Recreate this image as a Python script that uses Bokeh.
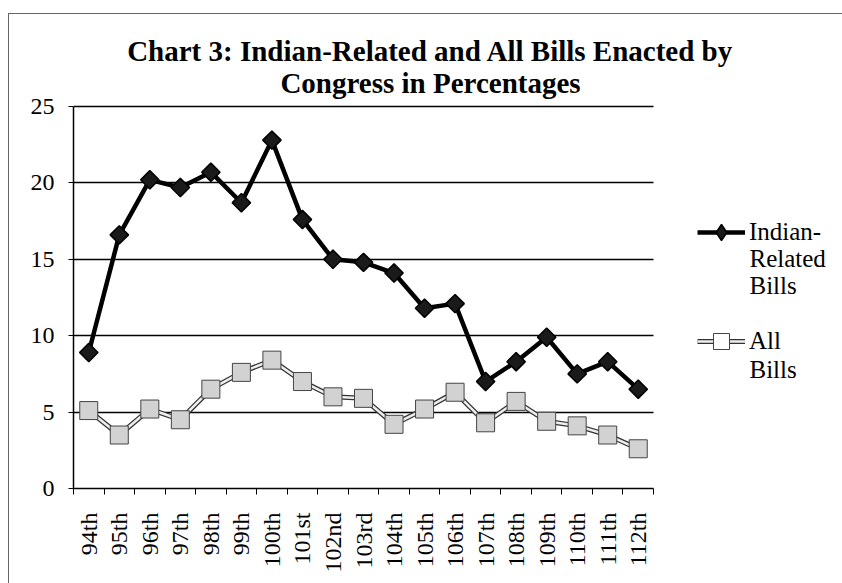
import numpy as np
from bokeh.plotting import figure
from bokeh.models import (Range1d, FixedTicker, Label, Legend, LegendItem,
                          ColumnDataSource)
from bokeh.embed import file_html
from bokeh.resources import INLINE

# Congresses and the share of bills enacted (%)
congresses = ["94th", "95th", "96th", "97th", "98th", "99th", "100th", "101st",
              "102nd", "103rd", "104th", "105th", "106th", "107th", "108th",
              "109th", "110th", "111th", "112th"]
indian_related = [8.9, 16.6, 20.2, 19.7, 20.7, 18.7, 22.8, 17.6, 15.0, 14.8,
                  14.1, 11.8, 12.1, 7.0, 8.3, 9.9, 7.5, 8.3, 6.5]
all_bills = [5.1, 3.5, 5.2, 4.5, 6.5, 7.6, 8.4, 7.0, 6.0, 5.9, 4.2, 5.2, 6.3,
             4.3, 5.7, 4.4, 4.1, 3.5, 2.6]
y_ticks = [0, 5, 10, 15, 20, 25]

title_lines = ["Chart 3: Indian-Related and All Bills Enacted by",
               "Congress in Percentages"]
legend_lines = [["Indian-", "Related", "Bills"], ["All", "Bills"]]

SERIF = "Liberation Serif"
W, H = 842, 583
# the plotted area (0..19 by 0..25) in canvas pixels
LEFT, RIGHT, TOP, BOTTOM = 73, 653, 106, 488
Y_MAX = 25

n = len(congresses)
xpos = np.arange(n) + 0.5
src = ColumnDataSource(dict(x=xpos, cat=congresses,
                            ind=indian_related, allb=all_bills))

# The frame reaches the top and right edges of the canvas so that the title
# and legend can sit inside it; axes and grid are bounded to the data area.
x_end = n * (W - LEFT) / (RIGHT - LEFT)
y_end = Y_MAX * (BOTTOM) / (BOTTOM - TOP)

p = figure(width=W, height=H, output_backend="svg", toolbar_location=None,
           title=None,
           x_range=Range1d(0, x_end), y_range=Range1d(0, y_end),
           min_border_left=LEFT, min_border_right=0,
           min_border_top=0, min_border_bottom=H - BOTTOM)
p.outline_line_color = None
p.background_fill_color = None
p.border_fill_color = None
p.styles = {
    "background": "linear-gradient(#666,#666) 8px 13px / 834px 1px no-repeat, "
                  "linear-gradient(#666,#666) 8px 13px / 1px 570px no-repeat, "
                  "white"
}

# axes
p.xaxis.bounds = (0, n)
p.xaxis.ticker = FixedTicker(ticks=list(xpos), minor_ticks=list(range(n + 1)))
p.xaxis.major_label_overrides = {float(x): c for x, c in zip(xpos, congresses)}
p.xaxis.major_label_orientation = np.pi / 2
p.xaxis.major_tick_line_color = None
p.xaxis.major_tick_out = 0
p.xaxis.major_tick_in = 0
p.xaxis.minor_tick_line_color = "black"
p.xaxis.minor_tick_out = 6
p.xaxis.minor_tick_in = 0
p.xaxis.major_label_standoff = 18
p.xaxis.axis_line_color = "black"
p.xaxis.axis_line_width = 1.5

p.yaxis.bounds = (0, Y_MAX)
p.yaxis.ticker = FixedTicker(ticks=y_ticks)
p.yaxis.minor_tick_line_color = None
p.yaxis.major_tick_out = 5
p.yaxis.major_tick_in = 0
p.yaxis.major_label_standoff = 14
p.yaxis.axis_line_color = "black"
p.yaxis.axis_line_width = 1.5

for ax in (p.xaxis, p.yaxis):
    ax.major_label_text_font = SERIF
    ax.major_label_text_font_size = "24px"
    ax.major_label_text_color = "black"

p.xgrid.grid_line_color = None
p.ygrid.grid_line_color = "black"
p.ygrid.grid_line_width = 1.5
p.ygrid.bounds = (0, Y_MAX)
p.ygrid.cross_bounds = (0, n)

# All bills: outlined light line with square markers; the white key marker
# sits under the grey ones and only shows up in the legend sample
all_edge = p.line("x", "allb", source=src, line_color="#333333", line_width=5)
all_core = p.line("x", "allb", source=src, line_color="#eeeeee", line_width=2.5)
all_key = p.scatter("x", "allb", source=src, marker="square", size=14,
                    fill_color="white", line_color="#444444", line_width=1)
all_pts = p.scatter("x", "allb", source=src, marker="square", size=18,
                    fill_color="#d2d2d2", line_color="#444444", line_width=1)

# Indian-related bills: heavy black line with diamond markers (the narrow
# diamond key lies inside the rotated squares and serves the legend)
ind_line = p.line("x", "ind", source=src, line_color="black", line_width=4.5)
ind_key = p.scatter("x", "ind", source=src, marker="diamond", size=12,
                    fill_color="#1a1a1a", line_color="black", line_width=1.5)
ind_pts = p.scatter("x", "ind", source=src, marker="square", angle=np.pi / 4,
                    size=13, fill_color="#1a1a1a", line_color="black",
                    line_width=1.5)

# two-line title centred over the chart (screen units measured from frame)
fb = BOTTOM  # frame bottom in canvas pixels
for txt, base in zip(title_lines, [50, 82]):
    p.add_layout(Label(x=430 - LEFT, y=fb - base, x_units="screen",
                       y_units="screen", text=txt, text_font=SERIF,
                       text_font_style="bold", text_font_size="29px",
                       text_align="center", text_baseline="alphabetic",
                       text_color="black"))

# legend: the first line of each entry carries the sample glyph
legend = Legend(items=[
    LegendItem(label=legend_lines[0][0], renderers=[ind_line, ind_key]),
    LegendItem(label=legend_lines[1][0], renderers=[all_edge, all_core, all_key]),
], location=(697 - LEFT, fb - 361), orientation="vertical",
    glyph_width=48, glyph_height=40, label_height=28, spacing=69,
    label_standoff=4, padding=0, margin=0,
    label_text_font=SERIF, label_text_font_size="25px",
    label_text_color="black", border_line_color=None,
    background_fill_alpha=0)
p.add_layout(legend)

# continuation lines of the legend entries
for txt, cy in [(legend_lines[0][1], 258), (legend_lines[0][2], 285),
                (legend_lines[1][1], 369)]:
    p.add_layout(Label(x=749 - LEFT, y=fb - cy, x_units="screen",
                       y_units="screen", text=txt, text_font=SERIF,
                       text_font_size="25px", text_baseline="middle",
                       text_color="black"))

open("out.html", "w").write(file_html(p, INLINE))
